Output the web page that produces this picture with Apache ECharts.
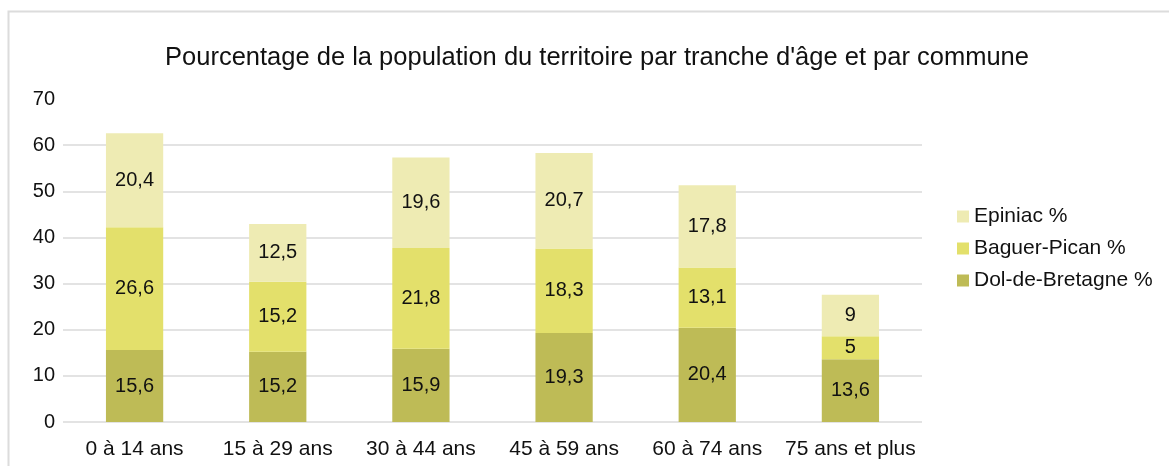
<!DOCTYPE html>
<html>
<head>
<meta charset="utf-8">
<script src="https://cdn.jsdelivr.net/npm/echarts@6/dist/echarts.min.js"></script>
<style>
  html, body { margin: 0; padding: 0; background: #fff; }
  #chart { width: 1169px; height: 466px; }
</style>
</head>
<body>
<div id="chart"></div>
<script>
const categories = ['0 à 14 ans', '15 à 29 ans', '30 à 44 ans', '45 à 59 ans', '60 à 74 ans', '75 ans et plus']
const dolDeBretagne = [15.6, 15.2, 15.9, 19.3, 20.4, 13.6]
const baguerPican = [26.6, 15.2, 21.8, 18.3, 13.1, 5]
const epiniac = [20.4, 12.5, 19.6, 20.7, 17.8, 9]
const yTicks = [0, 10, 20, 30, 40, 50, 60, 70]

const font = '"Liberation Sans", Arial, sans-serif'
const colors = {
  dol: '#bebb56',
  baguer: '#e3e06b',
  epiniac: '#eeebb3'
}

function makeSeries(name, data, color) {
  return {
    name: name,
    type: 'bar',
    stack: 'total',
    barWidth: '40%',
    itemStyle: { color: color },
    label: {
      show: true,
      position: 'inside',
      color: '#111',
      fontFamily: font,
      fontSize: 20,
      formatter: p => String(p.value).replace('.', ',')
    },
    emphasis: { disabled: true },
    data: data
  }
}

const chart = echarts.init(document.getElementById('chart'), null, { renderer: 'canvas' })
chart.setOption({
  backgroundColor: '#fff',
  animation: false,
  title: {
    text: "Pourcentage de la population du territoire par tranche d'âge et par commune",
    left: 592,
    textAlign: 'center',
    top: 40,
    textStyle: {
      fontFamily: font,
      fontWeight: 'normal',
      fontSize: 25.5,
      color: '#111'
    }
  },
  legend: {
    orient: 'vertical',
    left: 952,
    top: 201,
    icon: 'rect',
    itemWidth: 12,
    itemHeight: 12,
    itemGap: 11,
    data: ['Epiniac %', 'Baguer-Pican %', 'Dol-de-Bretagne %'],
    textStyle: {
      fontFamily: font,
      fontSize: 21,
      color: '#111',
      padding: [0, 0, 0, 0]
    }
  },
  grid: {
    left: 63,
    right: 247,
    top: 99,
    bottom: 44,
    containLabel: false
  },
  xAxis: {
    type: 'category',
    data: categories,
    axisLine: { show: false },
    axisTick: { show: false },
    axisLabel: {
      interval: 0,
      hideOverlap: false,
      fontFamily: font,
      fontSize: 21,
      color: '#111',
      margin: 17
    }
  },
  yAxis: {
    type: 'value',
    min: yTicks[0],
    max: yTicks[yTicks.length - 1],
    interval: 10,
    axisLine: { show: false },
    axisTick: { show: false },
    axisLabel: {
      fontFamily: font,
      fontSize: 20,
      color: '#111',
      margin: 8
    },
    splitLine: {
      show: true,
      showMaxLine: false,
      lineStyle: { color: '#dadada', width: 1.5 }
    }
  },
  graphic: [{
    type: 'polyline',
    silent: true,
    shape: { points: [[8.5, 466], [8.5, 11.5], [1169, 11.5]] },
    style: { stroke: '#dcdcdc', lineWidth: 2, fill: null }
  }],
  series: [
    makeSeries('Dol-de-Bretagne %', dolDeBretagne, colors.dol),
    makeSeries('Baguer-Pican %', baguerPican, colors.baguer),
    makeSeries('Epiniac %', epiniac, colors.epiniac)
  ]
})
</script>
</body>
</html>
